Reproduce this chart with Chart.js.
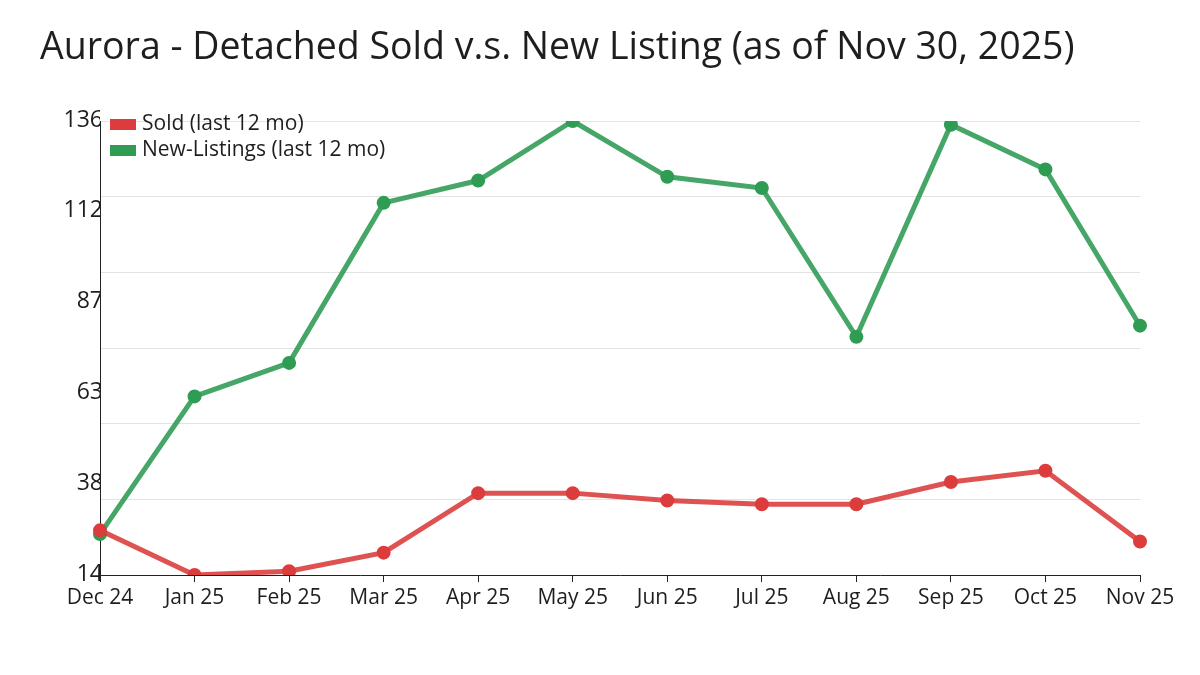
<!DOCTYPE html>
<html>

<head>
  <script src="https://cdn.jsdelivr.net/npm/chart.js"></script>
  <style>
    body { margin: 0; background: #fff; }
    #wrap { width: 1200px; height: 675px; }
  </style>
</head>

<body>
  <div id="wrap"><canvas id="chart" width="1200" height="675"></canvas></div>
  <script>
    var months = ['Dec 24', 'Jan 25', 'Feb 25', 'Mar 25', 'Apr 25', 'May 25',
      'Jun 25', 'Jul 25', 'Aug 25', 'Sep 25', 'Oct 25', 'Nov 25'];
    var sold = [26, 14, 15, 20, 36, 36, 34, 33, 33, 39, 42, 23];
    var newListings = [25, 62, 71, 114, 120, 136, 121, 118, 78, 135, 123, 81];
    var yMin = 14;
    var yMax = 136;

    var font = "'Open Sans', 'Noto Sans', sans-serif";

    // labels at 5 steps, grid lines at 6 steps (as in the original)
    function evenTicks(n) {
      var out = [];
      for (var i = 0; i <= n; i++) out.push({ value: yMin + (yMax - yMin) * i / n });
      return out;
    }

    // legend sits inside the plot, top-left
    var innerLegend = {
      id: 'innerLegend',
      afterDraw: function (chart) {
        var ctx = chart.ctx;
        var a = chart.chartArea;
        ctx.save();
        ctx.font = '21px ' + font;
        ctx.textBaseline = 'middle';
        chart.data.datasets.forEach(function (ds, i) {
          var y = a.top + 3 + i * 26;
          ctx.fillStyle = ds.backgroundColor;
          ctx.fillRect(a.left + 10, y - 5, 26, 11);
          ctx.fillStyle = '#1e1e1e';
          ctx.fillText(ds.label, a.left + 42, y);
        });
        ctx.restore();
      }
    };

    new Chart('chart', {
      type: 'line',
      data: {
        labels: months,
        datasets: [{
          label: 'Sold (last 12 mo)',
          data: sold,
          borderColor: 'rgba(216,52,52,0.85)',
          backgroundColor: '#dc3c3c',
          pointBackgroundColor: '#dc3c3c',
          pointBorderColor: '#dc3c3c',
          borderWidth: 5,
          pointRadius: 4.5,
          tension: 0
        }, {
          label: 'New-Listings (last 12 mo)',
          data: newListings,
          borderColor: 'rgba(38,150,78,0.85)',
          backgroundColor: '#2e9c52',
          pointBackgroundColor: '#2e9c52',
          pointBorderColor: '#2e9c52',
          borderWidth: 5,
          pointRadius: 4.5,
          tension: 0
        }]
      },
      options: {
        responsive: false,
        animation: false,
        layout: { padding: { left: 40, right: 60, top: 0, bottom: 0 } },
        plugins: {
          title: {
            display: true,
            text: 'Aurora - Detached Sold v.s. New Listing (as of Nov 30, 2025)',
            align: 'start',
            color: '#1e1e1e',
            font: { family: font, size: 37.5, weight: 'normal' },
            padding: { top: 26, bottom: 50 }
          },
          legend: { display: false },
          tooltip: { enabled: false }
        },
        scales: {
          x: {
            grid: { display: true, drawOnChartArea: false, color: '#222', tickLength: 7 },
            border: { color: '#222', width: 1 },
            ticks: { color: '#1e1e1e', font: { family: font, size: 21 }, maxRotation: 0, autoSkip: false, padding: 3 },
            afterFit: function (s) { s.height = 100; }
          },
          y: {
            min: yMin,
            max: yMax,
            position: 'left',
            grid: { color: '#e3e3e3', drawTicks: false },
            border: { display: false },
            ticks: { display: false },
            afterBuildTicks: function (s) { s.ticks = evenTicks(6); },
            afterFit: function (s) { s.width = 0; }
          },
          yLabels: {
            min: yMin,
            max: yMax,
            position: 'left',
            grid: { display: false, drawTicks: false, tickLength: 0 },
            border: { display: true, color: '#222', width: 1 },
            ticks: {
              color: '#1e1e1e',
              font: { family: font, size: 23 },
              padding: -3,
              labelOffset: -1,
              callback: function (v) { return Math.round(v); }
            },
            afterBuildTicks: function (s) { s.ticks = evenTicks(5); },
            afterFit: function (s) { s.width = 60; }
          }
        }
      },
      plugins: [innerLegend]
    });
  </script>
</body>

</html>
